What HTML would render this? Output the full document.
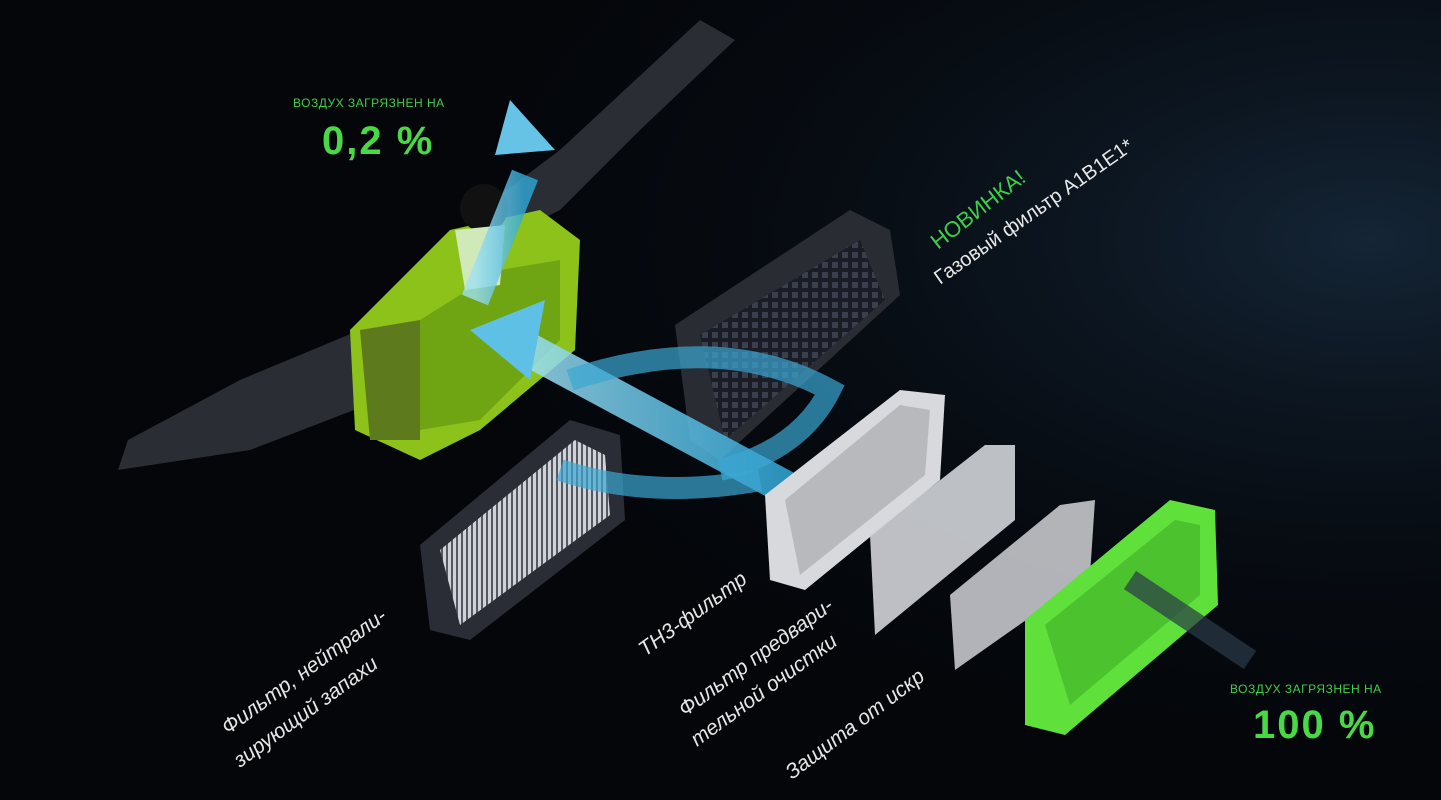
<!DOCTYPE html>
<html><head><meta charset="utf-8"><style>
html,body{margin:0;padding:0;background:#04060a;width:1441px;height:800px;overflow:hidden}
svg{display:block}
text{font-family:"Liberation Sans",sans-serif}
</style></head><body>
<svg width="1441" height="800" viewBox="0 0 1441 800">
<defs>
<radialGradient id="bg" cx="0.95" cy="0.3" r="0.7"><stop offset="0" stop-color="#142536"/><stop offset="1" stop-color="#04060a" stop-opacity="0"/></radialGradient>
<linearGradient id="arr" x1="0" y1="0" x2="1" y2="0"><stop offset="0" stop-color="#9fe0f5"/><stop offset="1" stop-color="#2fa8d8"/></linearGradient>
<pattern id="grid" width="10" height="10" patternUnits="userSpaceOnUse"><rect width="10" height="10" fill="#1a1d26"/><rect x="2" y="2" width="6" height="6" fill="#3a3f4e"/></pattern>
<pattern id="fine" width="5" height="5" patternUnits="userSpaceOnUse"><rect width="5" height="5" fill="#cfd2d8"/><rect x="1" width="2" height="5" fill="#55585f"/></pattern>
</defs>
<rect width="1441" height="800" fill="#04060a"/>
<rect width="1441" height="800" fill="url(#bg)"/>
<polygon points="700,20 735,40 640,130 560,210 500,240 480,210 560,150" fill="#2a2d33"/>
<polygon points="118,470 128,440 240,380 360,330 380,400 250,450" fill="#2a2d33"/>
<polygon points="675,325 850,210 890,230 900,295 720,460 690,440" fill="#2a2c33"/>
<polygon points="700,335 860,240 885,300 725,440" fill="url(#grid)"/>
<polygon points="420,545 570,420 620,435 625,520 470,640 430,630" fill="#2a2d35"/>
<polygon points="440,550 575,440 605,455 610,515 460,625" fill="url(#fine)"/>
<polygon points="350,330 450,230 540,210 580,240 575,350 480,430 420,460 355,430" fill="#8cc21a"/>
<polygon points="420,320 500,270 560,260 560,340 480,420 420,430" fill="#6fa512"/>
<polygon points="360,330 420,320 420,440 370,440" fill="#5d7a1c"/>
<circle cx="484" cy="208" r="24" fill="#111"/>
<polygon points="455,230 505,225 500,285 465,290" fill="#cfe9b8"/>
<path d="M475,300 L525,175" stroke="url(#arr)" stroke-width="28" fill="none" opacity="0.8"/>
<polygon points="510,100 555,150 495,155" fill="#67c3e6"/>
<path d="M790,490 L520,345" stroke="url(#arr)" stroke-width="34" fill="none" opacity="0.85"/>
<polygon points="470,330 545,300 530,380" fill="#5fc0e6"/>
<path d="M570,380 Q720,330 830,390 Q800,450 720,470" stroke="#3aa6d3" stroke-width="22" fill="none" opacity="0.7"/>
<path d="M560,470 Q650,500 760,480" stroke="#3aa6d3" stroke-width="22" fill="none" opacity="0.7"/>
<polygon points="765,495 900,390 945,395 940,480 805,590 770,580" fill="#d8d9dc"/>
<polygon points="785,500 900,405 930,410 925,475 800,575" fill="#b7b9bd"/>
<polygon points="870,535 985,445 1015,445 1015,520 875,635" fill="#d2d4d8" opacity="0.9"/>
<polygon points="950,595 1060,505 1095,500 1090,575 955,670" fill="#c5c7cb" opacity="0.9"/>
<polygon points="1025,620 1170,500 1215,510 1218,605 1065,735 1025,725" fill="#5fe03a"/>
<polygon points="1045,625 1175,520 1200,525 1200,595 1070,705" fill="#4cc22e"/>
<path d="M1130,580 L1250,660" stroke="#2a3a48" stroke-width="22" opacity="0.7"/>
<text x="293" y="107" fill="#3ecf4a" font-size="12" letter-spacing="0.5">ВОЗДУХ ЗАГРЯЗНЕН НА</text>
<text x="322" y="154" fill="#49d846" font-size="40" font-weight="bold" letter-spacing="2">0,2 %</text>
<text x="1230" y="693" fill="#3ecf4a" font-size="12" letter-spacing="0.5">ВОЗДУХ ЗАГРЯЗНЕН НА</text>
<text x="1253" y="738" fill="#49d846" font-size="40" font-weight="bold" letter-spacing="2">100 %</text>
<text transform="translate(938,250) rotate(-38)" fill="#3ecf4a" font-size="22">НОВИНКА!</text>
<text transform="translate(940,285) rotate(-35)" fill="#e8e8e8" font-size="20">Газовый фильтр A1B1E1*</text>
<g fill="#e6e6e6" font-size="21" font-style="italic">
<text transform="translate(228,735) rotate(-36)">Фильтр, нейтрали-</text>
<text transform="translate(240,768) rotate(-36)">зирующий запахи</text>
<text transform="translate(645,657) rotate(-36)">ТН3-фильтр</text>
<text transform="translate(685,717) rotate(-36)">Фильтр предвари-</text>
<text transform="translate(697,747) rotate(-36)">тельной очистки</text>
<text transform="translate(792,780) rotate(-37)">Защита от искр</text>
</g>
</svg>
</body></html>
